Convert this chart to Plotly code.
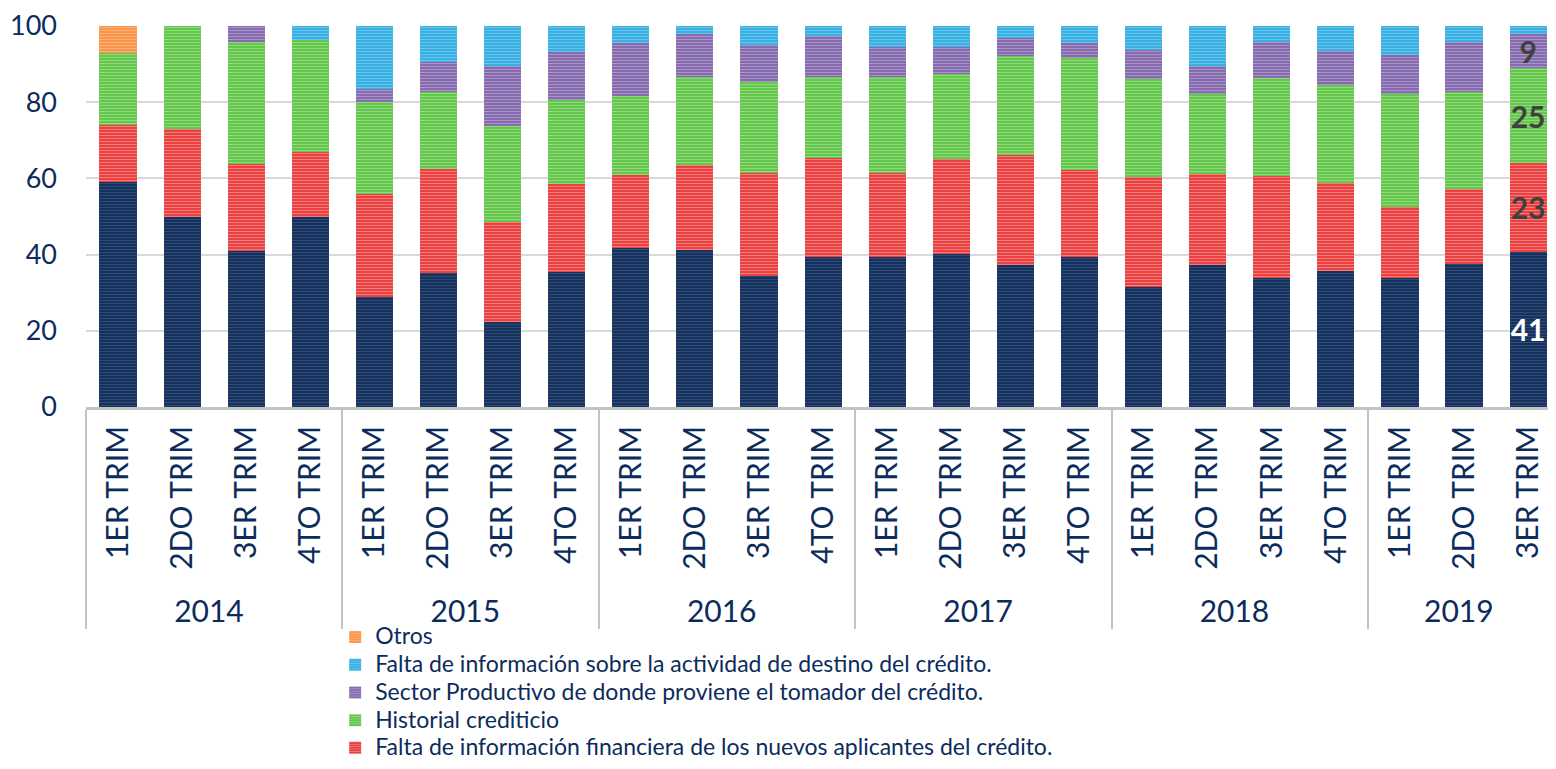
import plotly.graph_objects as go

years = ["2014"] * 4 + ["2015"] * 4 + ["2016"] * 4 + ["2017"] * 4 + ["2018"] * 4 + ["2019"] * 3
quarters = ["1ER TRIM", "2DO TRIM", "3ER TRIM", "4TO TRIM"] * 5 + ["1ER TRIM", "2DO TRIM", "3ER TRIM"]

name_blue = "Capacidad de pago"
name_red = "Falta de información financiera de los nuevos aplicantes del crédito."
name_green = "Historial crediticio"
name_purple = "Sector Productivo de donde proviene el tomador del crédito."
name_cyan = "Falta de información sobre la actividad de destino del crédito."
name_orange = "Otros"

vals_blue = [59, 50, 41, 50, 29, 35.3, 22.2, 35.5, 41.8, 41.3, 34.4, 39.5, 39.5, 40.1, 37.2, 39.5,
             31.6, 37.2, 33.8, 35.6, 33.8, 37.5, 40.8]
vals_red = [15, 23, 22.8, 16.8, 27, 27.2, 26.4, 23.1, 19.2, 22.3, 27.1, 25.9, 22, 24.9, 28.9, 22.6,
            28.7, 24, 26.8, 23.3, 18.7, 19.8, 23.3]
vals_green = [19, 27, 32, 29.4, 24, 20.3, 25.1, 21.9, 20.7, 23.1, 23.7, 21.3, 25.2, 22.4, 26.1, 29.5,
              25.8, 20.9, 25.7, 25.7, 29.6, 25.5, 24.8]
vals_purple = [0, 0, 4.2, 0, 3.5, 7.7, 15.7, 12.8, 13.9, 11.2, 9.7, 10.7, 7.7, 7, 4.7, 4,
               7.6, 7.4, 9.6, 8.9, 10.3, 12.9, 9.0]
vals_cyan = [0, 0, 0, 3.8, 16.5, 9.5, 10.6, 6.7, 4.4, 2.1, 5.1, 2.6, 5.6, 5.6, 3.1, 4.4,
             6.3, 10.5, 4.1, 6.5, 7.6, 4.3, 2.1]
vals_orange = [7] + [0] * 22

NAVY_TXT = "#0c2c5c"
FONT = "Lato"

series = [
    (name_blue, vals_blue, "#10284f", "#4a6fad", "#ffffff", False),
    (name_red, vals_red, "#ea2a2a", "#f7d0d0", "#404040", True),
    (name_green, vals_green, "#4fc23a", "#dcecc4", "#404040", True),
    (name_purple, vals_purple, "#7a5fa6", "#d6cae6", "#404040", True),
    (name_cyan, vals_cyan, "#25a9e2", "#b4ddf1", "#404040", True),
    (name_orange, vals_orange, "#f78c3a", "#fdd8b6", "#404040", True),
]

# The page body adds an 8px margin; size the figure so the page does not scroll
W, H = 1540, 753
L, T, B = 77.8, 17.5, 398.7
PW, PH = W - L, B - T

fig = go.Figure()
n = len(quarters)
for name, vals, base, stripe, tcol, show in series:
    texts = [""] * n
    if name != name_orange and name != name_cyan:
        texts[-1] = f"{vals[-1]:.0f}"
    fig.add_trace(go.Bar(
        x=[years, quarters], y=vals,
        name=f'<span style="font-size:23px">{name}</span>', showlegend=show,
        marker=dict(color=base, line=dict(width=0),
                    pattern=dict(shape="-", bgcolor=base, fgcolor=stripe, size=3, solidity=0.5)),
        text=texts, textposition="inside", insidetextanchor="middle", textangle=0,
        constraintext="none",
        textfont=dict(family=FONT, size=30, color=tcol, weight="bold"),
    ))

fig.update_layout(
    barmode="stack", bargap=0.42,
    width=W, height=H,
    margin=dict(l=L, r=0, t=T, b=H - B, autoexpand=False),
    plot_bgcolor="white", paper_bgcolor="white",
    font=dict(family=FONT, color=NAVY_TXT),
    showlegend=True,
    legend=dict(
        x=(327 - L) / PW, xanchor="left", y=(B - 610) / PH, yanchor="top",
        traceorder="reversed", font=dict(size=19, color=NAVY_TXT, family=FONT),
        bgcolor="rgba(0,0,0,0)", tracegroupgap=0,
    ),
    xaxis=dict(
        type="multicategory", tickangle=-90, range=[-0.5, 22.31],
        tickfont=dict(size=30, color=NAVY_TXT, family=FONT),
        showline=True, linecolor="#c3c3c3", linewidth=3,
        showdividers=True, dividercolor="#c3c3c3", dividerwidth=2,
        ticks="", showgrid=False, ticklabelstandoff=4,
    ),
    yaxis=dict(
        range=[0, 100], dtick=20, showgrid=True, gridcolor="#d9d9d9", gridwidth=1.5,
        tickfont=dict(size=27, color=NAVY_TXT, family=FONT),
        ticklabelstandoff=28, ticklabeloverflow="allow", zeroline=False, showline=False,
    ),
)

fig.write_html("out.html")
